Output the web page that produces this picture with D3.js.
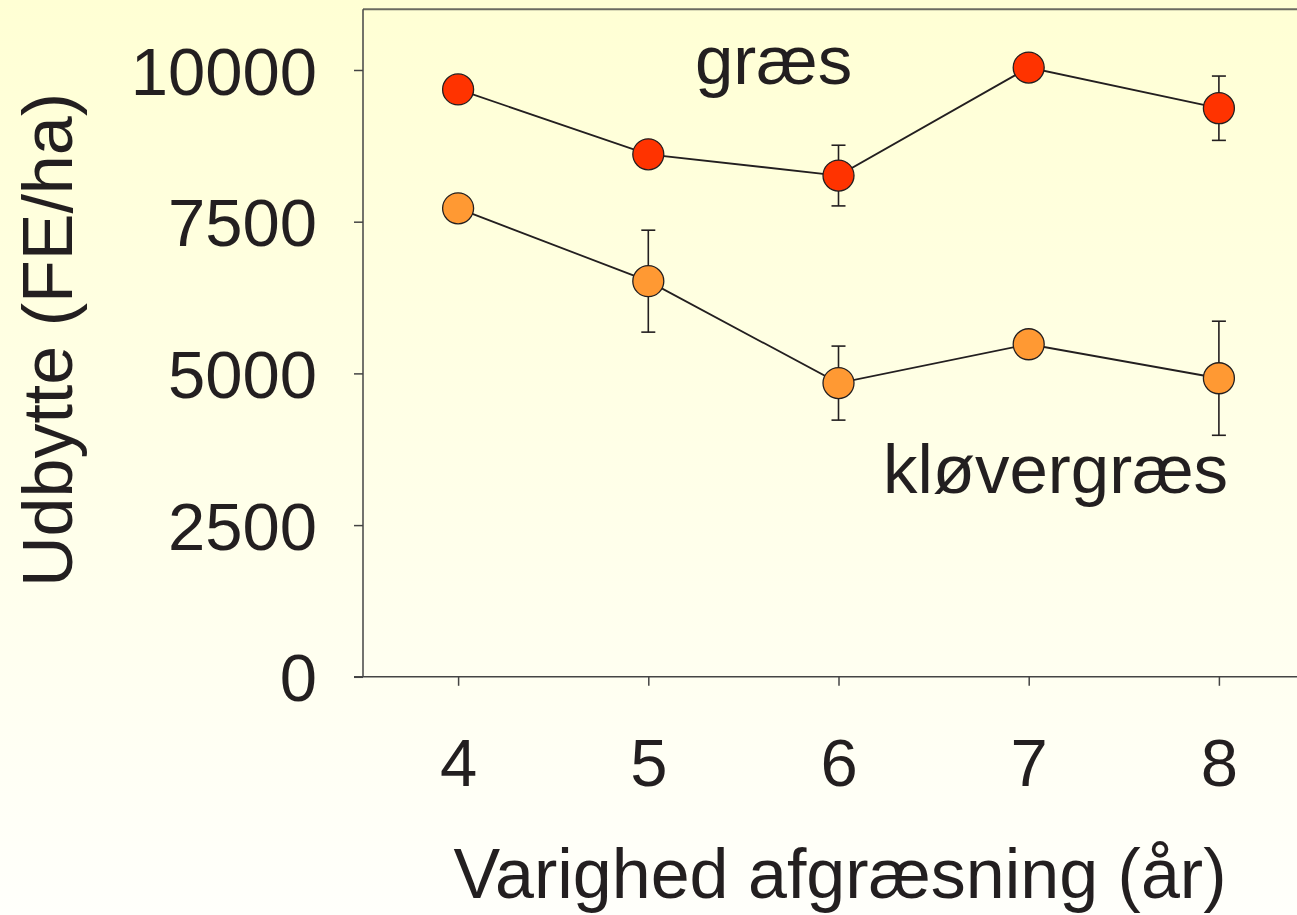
<!DOCTYPE html>
<html><head><meta charset="utf-8">
<script src="https://cdn.jsdelivr.net/npm/d3@7"></script>
<style>html,body{margin:0;padding:0;overflow:hidden;background:#fffff0}svg{display:block}</style>
</head><body>
<svg id="c" width="1297" height="915"></svg>
<script>
const years = [4, 5, 6, 7, 8];
const graesMean = [9680, 8610, 8260, 10040, 9370];
const graesErr  = [null, null, 500, null, 530];
const kloverMean = [7720, 6520, 4840, 5480, 4920];
const kloverErr  = [null, 840, 610, null, 940];
const yTicks = [0, 2500, 5000, 7500, 10000];
const xTicks = [4, 5, 6, 7, 8];
const seriesNames = ["græs", "kløvergræs"];

const W = 1297, H = 915;
const svg = d3.select("#c");
const defs = svg.append("defs");
const grad = defs.append("linearGradient").attr("id","bg").attr("x1",0).attr("y1",0).attr("x2",0).attr("y2",1);
grad.append("stop").attr("offset","0%").attr("stop-color","#ffffd4");
grad.append("stop").attr("offset","100%").attr("stop-color","#fffffb");
svg.append("rect").attr("width",W).attr("height",H).attr("fill","url(#bg)");

const x = d3.scaleLinear().domain([3.5, 8.5]).range([363, 1314]);
const y = d3.scaleLinear().domain([0, 11000]).range([676.8, 9.3]);
const font = "'Liberation Sans', Arial, sans-serif";
const ink = "#231f20";

// frame: top border
svg.append("line").attr("x1",x(3.5)).attr("x2",W).attr("y1",y(11000)).attr("y2",y(11000))
  .attr("stroke","#6b6b60").attr("stroke-width",2);

// y axis
const yAxis = svg.append("g").attr("transform",`translate(${x(3.5)},0)`)
  .call(d3.axisLeft(y).tickValues(yTicks).tickSize(9).tickPadding(37).tickFormat(d3.format("d")));
yAxis.select(".domain").attr("stroke","#444").attr("stroke-width",1.5).attr("d",`M0,${y(11000)}V${y(0)}`);
yAxis.selectAll(".tick line").attr("stroke","#444").attr("stroke-width",1.5);
yAxis.selectAll(".tick text").attr("font-family",font).attr("font-size",67).attr("fill",ink).attr("dy","0.36em");

// x axis
const xAxis = svg.append("g").attr("transform",`translate(0,${y(0)})`)
  .call(d3.axisBottom(x).tickValues(xTicks).tickSize(9).tickPadding(53).tickFormat(d3.format("d")));
xAxis.select(".domain").attr("stroke","#444").attr("stroke-width",1.5).attr("d",`M${x(3.5)-9},0H${W}`);
xAxis.selectAll(".tick line").attr("stroke","#444").attr("stroke-width",1.5);
xAxis.selectAll(".tick text").attr("font-family",font).attr("font-size",67).attr("fill",ink);

// axis titles
svg.append("text").attr("transform",`translate(72,340) rotate(-90)`).attr("text-anchor","middle")
  .attr("font-family",font).attr("font-size",70).attr("fill",ink).text("Udbytte (FE/ha)");
svg.append("text").attr("x",840).attr("y",898).attr("text-anchor","middle")
  .attr("font-family",font).attr("font-size",70).attr("fill",ink).text("Varighed afgræsning (år)");

function drawSeries(means, errs, fill) {
  const pts = years.map((yr,i)=>({x:yr, v:means[i], e:errs[i]}));
  svg.append("path").datum(pts).attr("fill","none").attr("stroke",ink).attr("stroke-width",1.8)
    .attr("d", d3.line().x(d=>x(d.x)).y(d=>y(d.v)));
  const eb = svg.append("g").attr("stroke",ink).attr("stroke-width",1.6);
  pts.filter(d=>d.e).forEach(d=>{
    eb.append("line").attr("x1",x(d.x)).attr("x2",x(d.x)).attr("y1",y(d.v+d.e)).attr("y2",y(d.v-d.e));
    eb.append("line").attr("x1",x(d.x)-7).attr("x2",x(d.x)+7).attr("y1",y(d.v+d.e)).attr("y2",y(d.v+d.e));
    eb.append("line").attr("x1",x(d.x)-7).attr("x2",x(d.x)+7).attr("y1",y(d.v-d.e)).attr("y2",y(d.v-d.e));
  });
  svg.append("g").selectAll("circle").data(pts).join("circle")
    .attr("cx",d=>x(d.x)).attr("cy",d=>y(d.v)).attr("r",15.5)
    .attr("fill",fill).attr("stroke",ink).attr("stroke-width",1.3);
}
drawSeries(kloverMean, kloverErr, "#ff9933");
drawSeries(graesMean, graesErr, "#ff3300");

svg.append("text").attr("x",695).attr("y",84).attr("font-family",font).attr("font-size",69).attr("fill",ink).text(seriesNames[0]);
svg.append("text").attr("x",883).attr("y",493).attr("font-family",font).attr("font-size",69).attr("fill",ink).text(seriesNames[1]);
</script>
</body></html>
